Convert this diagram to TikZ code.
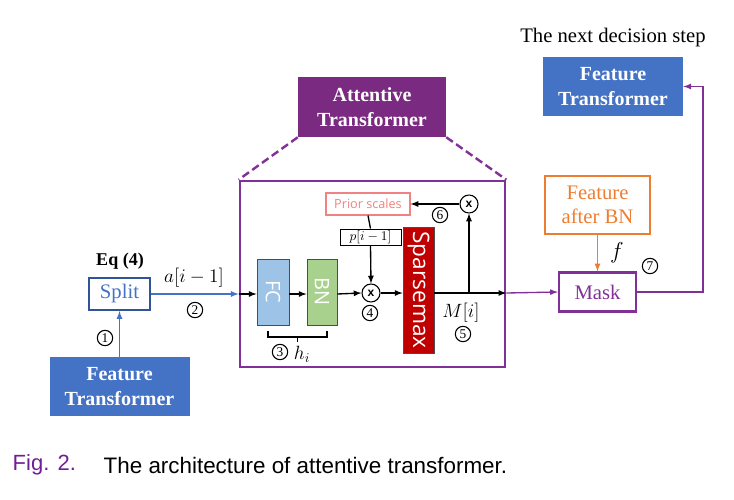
\documentclass[tikz,border=0pt]{standalone}
\usepackage{amsmath}
\usepackage{fontspec}
\setmainfont{Liberation Serif}
\setsansfont{Liberation Sans}
\newfontfamily\uifont{Open Sans}
\usepackage{tikz}
\usetikzlibrary{arrows,shapes,positioning,calc}
\usepackage{xcolor}
\definecolor{atblue}{RGB}{68,114,196}
\definecolor{atdarkblue}{RGB}{47,85,151}
\definecolor{atpurple}{RGB}{122,42,128}
\definecolor{atlinepurple}{RGB}{128,48,150}
\definecolor{atcaption}{RGB}{112,30,150}
\definecolor{atorange}{RGB}{237,125,49}
\definecolor{atpink}{RGB}{240,130,130}
\definecolor{atfc}{RGB}{157,195,230}
\definecolor{atbn}{RGB}{169,209,142}
\definecolor{atred}{RGB}{192,0,0}
\tikzstyle{arrow} = [line width=1pt,->,>=latex]
\tikzstyle{ftbox} = [rectangle, minimum width=105pt, minimum height=44pt, align=center, fill=atblue, text=white, font=\fontsize{15}{19}\selectfont\bfseries, inner sep=0pt]
\tikzstyle{blockbox} = [rectangle, draw=black!70, line width=0.6pt, text=white, inner sep=0pt]
\tikzstyle{multbox} = [circle, draw=black, line width=0.8pt, fill=white, minimum size=13.5pt, inner sep=0pt, font=\sffamily\bfseries\fontsize{9}{9}\selectfont]
\tikzstyle{numlabel} = [circle, draw=black, line width=0.8pt, minimum size=11.5pt, inner sep=0pt, font=\fontsize{10}{10}\selectfont]
\tikzstyle{mathlabel} = [font=\fontsize{14}{14}\selectfont, inner sep=0pt]

\begin{document}
\begin{tikzpicture}[x=0.75pt, y=-0.75pt]
\useasboundingbox (0,0) rectangle (734,499);

% Next decision step
\node[font=\fontsize{15.5}{18}\selectfont] (nexttitle) at (613,38) {The next decision step};
\node[ftbox] (ftnext) at (613,86.5) {Feature\\Transformer};

% Attentive transformer frame
\node[ftbox, fill=atpurple, minimum width=111pt, minimum height=45pt] (atbox) at (372,107) {Attentive\\Transformer};
\node[rectangle, draw=atlinepurple, line width=2pt, minimum width=198.75pt, minimum height=139.5pt, inner sep=0pt] (frame) at (372.5,274) {};
\draw[atlinepurple, line width=1.8pt, dash pattern=on 6pt off 3pt] (atbox.south west) -- (frame.north west);
\draw[atlinepurple, line width=1.8pt, dash pattern=on 6pt off 3pt] (atbox.south east) -- (frame.north east);

% Inside blocks
\node[rectangle, draw=atpink, line width=0.8pt, fill=white, minimum width=63pt, minimum height=16.5pt, text=atpink, font=\uifont\fontsize{9.5}{10}\selectfont, inner sep=0pt] (prior) at (368,204) {Prior scales};
\node[multbox] (mtop) at (469,204) {x};
\node[rectangle, draw=black, line width=0.7pt, fill=white, minimum width=45.75pt, minimum height=12pt, inner sep=0pt, font=\fontsize{10}{10}\selectfont] (pbox) at (370.5,237) {$p[i-1]$};
\node[multbox] (mmid) at (371,293) {x};
\node[blockbox, fill=atfc, minimum width=24pt, minimum height=49.5pt] (fc) at (273,292) {\rotatebox{-90}{\uifont\fontsize{15}{15}\selectfont FC}};
\node[blockbox, fill=atbn, minimum width=22.5pt, minimum height=49.5pt] (bn) at (322,292) {\rotatebox{-90}{\uifont\fontsize{15}{15}\selectfont BN}};
\node[blockbox, fill=atred, minimum width=23.25pt, minimum height=94.5pt] (sparse) at (418.5,290) {\rotatebox{-90}{\uifont\fontsize{17}{17}\selectfont Sparsemax}};

% Split and input
\node[font=\fontsize{13.5}{14}\selectfont\bfseries] (eqlabel) at (120,261) {Eq (4)};
\node[rectangle, draw=atdarkblue, line width=1.6pt, minimum width=45.75pt, minimum height=24pt, text=atblue, font=\fontsize{15.5}{16}\selectfont, inner sep=0pt] (split) at (119.5,294) {Split};
\node[ftbox] (ftbot) at (119.5,386.5) {Feature\\Transformer};

% Mask side
\node[rectangle, draw=atorange, line width=1.6pt, minimum width=78.75pt, minimum height=43.5pt, align=center, text=atorange, font=\fontsize{15.5}{18}\selectfont, inner sep=0pt] (fabn) at (597.5,205) {Feature\\after BN};
\node[rectangle, draw=atlinepurple, line width=1.6pt, minimum width=57.75pt, minimum height=29.25pt, text=atlinepurple, font=\fontsize{15.5}{16}\selectfont, inner sep=0pt] (mask) at (597.5,292) {Mask};

% Connectors
\coordinate (inlet) at (split.east -| frame.west);
\coordinate (branch) at (mtop |- mmid);
\coordinate (outlet) at (mmid -| frame.east);
\coordinate (turn) at (703,292);
\draw[arrow, atblue] (ftbot.north) -- (split.south);
\draw[arrow, atblue] (split.east) -- (inlet);
\draw[arrow] (inlet) -- (fc.west |- inlet);
\draw[arrow] (fc.east |- inlet) -- (bn.west |- inlet);
\draw[arrow] (bn.east |- inlet) -- (mmid.west);
\draw[arrow] (mmid.east) -- (sparse.west |- mmid);
\draw[arrow] (sparse.east |- mmid) -- (outlet);
\draw[arrow] (branch) -- (mtop.south);
\draw[arrow] (mtop.west) -- (prior.east);
\draw[line width=1pt] (prior.south) -- (pbox.north);
\draw[arrow] (pbox.south) -- (mmid.north);
\draw[arrow, atlinepurple] (outlet) -- (mask.west);
\draw[arrow, atorange] (fabn.south) -- (mask.north);
\draw[arrow, atlinepurple] (mask.east) -- (turn) |- (ftnext.east);

% Bracket under FC and BN
\draw[line width=0.8pt] (268,331) -- (268,337) -- (327,337) -- (327,331);
\draw[line width=0.8pt] (297.5,337) -- (297.5,342);

% Labels
\node[numlabel] (n1) at (105,338) {1};
\node[numlabel] (n2) at (195,310) {2};
\node[numlabel] (n3) at (280,352) {3};
\node[mathlabel] (hlabel) at (302,354) {$h_i$};
\node[numlabel] (n4) at (370,313) {4};
\node[numlabel] (n5) at (463,334) {5};
\node[numlabel] (n6) at (440,215) {6};
\node[numlabel] (n7) at (650,266) {7};
\node[mathlabel] (alabel) at (194,278) {$a[i-1]$};
\node[mathlabel] (mlabel) at (461,313) {$M[i]$};
\node[mathlabel, font=\fontsize{16}{16}\selectfont] (flabel) at (617,253) {$f$};

% Caption
\node[anchor=west, text=atcaption, font=\sffamily\fontsize{16.5}{18}\selectfont] (figlabel) at (8,465) {Fig. 2.};
\node[anchor=west, font=\sffamily\fontsize{16.8}{18}\selectfont] (figtext) at (99,465) {The architecture of attentive transformer.};
\end{tikzpicture}
\end{document}
